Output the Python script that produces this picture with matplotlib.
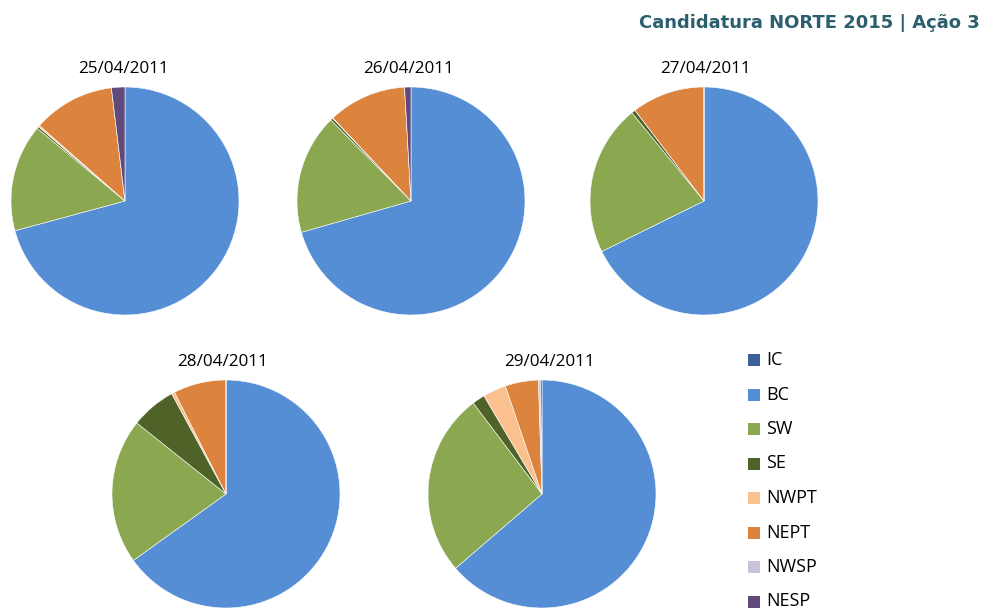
import matplotlib
matplotlib.use("Agg")
import matplotlib.pyplot as plt
from matplotlib.patches import Rectangle

categories = ["IC", "BC", "SW", "SE", "NWPT", "NEPT", "NWSP", "NESP"]
colors = ["#3A6196", "#558ED5", "#8BA750", "#4F6228", "#FAC090", "#DC843D", "#CCC1DA", "#604A7B"]

dates = ["25/04/2011", "26/04/2011", "27/04/2011", "28/04/2011", "29/04/2011"]
values = {
    "25/04/2011": [0, 70.8, 15.2, 0.3, 0.2, 11.6, 0, 1.9],
    "26/04/2011": [0, 70.5, 17.0, 0.35, 0.05, 11.1, 0, 0.9],
    "27/04/2011": [0, 67.7, 21.4, 0.55, 0.0, 10.35, 0, 0],
    "28/04/2011": [0, 65.1, 20.6, 6.4, 0.45, 7.45, 0, 0],
    "29/04/2011": [0, 63.7, 26.0, 1.8, 3.3, 4.7, 0.3, 0.2],
}

# layout (pixel positions, y measured from top)
centers = [(125, 201), (411, 201), (704, 201), (226, 494), (542, 494)]
title_pos = [(123, 69), (409, 69), (705, 69), (222, 362), (549, 362)]
radius = 114
W, H = 984, 608

fig = plt.figure(figsize=(W / 100, H / 100), dpi=100)
ax = fig.add_axes([0, 0, 1, 1])

for d, c, tp in zip(dates, centers, title_pos):
    ax.pie(values[d], colors=colors, startangle=90, counterclock=False,
           center=(c[0], H - c[1]), radius=radius,
           wedgeprops=dict(linewidth=0.4, edgecolor="white"))
    ax.text(tp[0], H - tp[1], d, ha="center", va="center", fontsize=12.3,
            family="Open Sans", color="black")

ax.set_xlim(0, W)
ax.set_ylim(0, H)
ax.set_aspect("auto")
ax.axis("off")

# legend
leg_y0, leg_dy = 360, 34.5
for i, (cat, col) in enumerate(zip(categories, colors)):
    yc = H - (leg_y0 + i * leg_dy)
    ax.add_patch(Rectangle((748, yc - 6), 12, 12, facecolor=col, edgecolor="none"))
    ax.text(766, yc, cat, ha="left", va="center", fontsize=13,
            family="Open Sans", color="black")

fig.text(980 / W, 1 - 23 / H, "Candidatura NORTE 2015 | Ação 3", ha="right", va="center",
         fontsize=13, fontweight="bold", color="#2B5F6E", family="DejaVu Sans")

fig.savefig("out.png", dpi=100)
